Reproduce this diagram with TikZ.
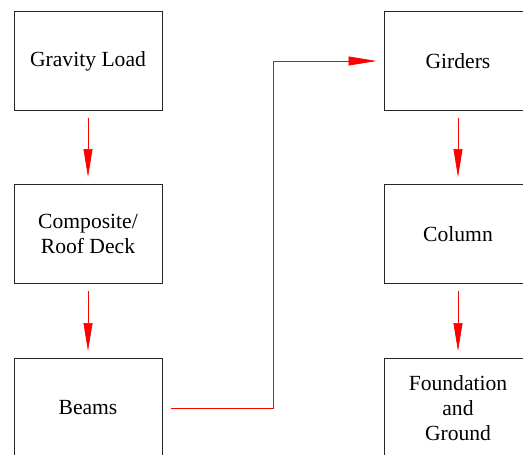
\documentclass[tikz,border=0pt]{standalone}
\usepackage{fontspec}
\setmainfont{Liberation Serif}
\usetikzlibrary{arrows.meta}
\tikzset{x=1pt,y=-1pt}
\tikzset{block/.style={draw=black!85,line width=1pt,minimum width=148pt,minimum height=99pt,align=center,inner sep=0pt,font=\fontsize{21.6}{25}\selectfont}}
\tikzset{flow/.style={red,line width=0.7pt,-{Triangle[length=28pt,width=9pt]},shorten <=7pt,shorten >=7pt}}

\begin{document}
\begin{tikzpicture}
\useasboundingbox (0,0) rectangle (523,455);
\node[block,name=load] at (88,61) {Gravity Load};
\node[block,name=deck] at (88,234) {Composite/\\Roof Deck};
\node[block,name=beams] at (88,408) {Beams};
\node[block,name=girders] at (458,61) {Girders};
\node[block,name=column] at (458,234) {Column};
\node[block,name=found] at (458,408) {Foundation\\and\\Ground};
\coordinate (bend) at (273,0);
\draw[flow] (load) to (deck);
\draw[flow] (deck) to (beams);
\draw[flow,shorten <=8pt] (beams.east) -- (beams.east -| bend) |- (girders.west);
\draw[flow] (girders) to (column);
\draw[flow] (column) to (found);
\end{tikzpicture}
\end{document}
